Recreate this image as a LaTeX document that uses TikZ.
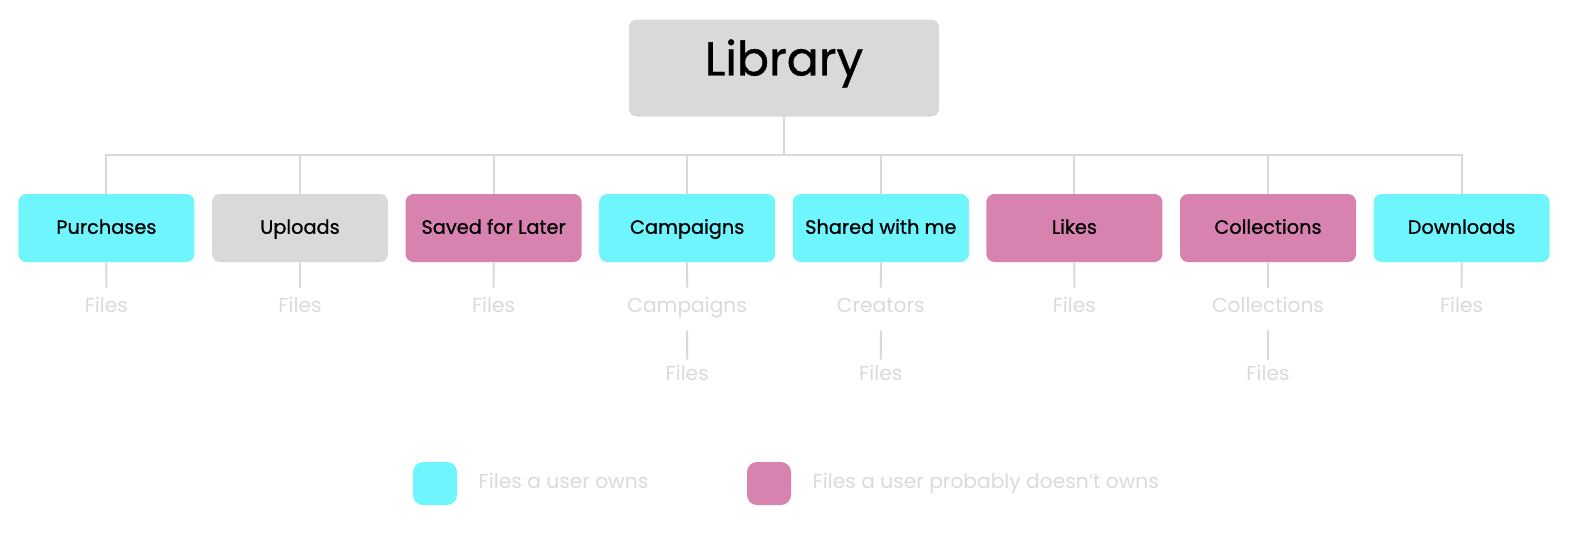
\documentclass[tikz,border=0pt]{standalone}
\usepackage{fontspec}
\setmainfont{Poppins}
\newfontfamily\boxfont{Poppins}[FakeBold=0.8]
\usetikzlibrary{positioning}
\definecolor{owncyan}{HTML}{6EF5FD}
\definecolor{notpink}{HTML}{D782AF}
\definecolor{boxgray}{HTML}{D9D9D9}
\definecolor{fadegray}{HTML}{DADADA}
\tikzset{
  folder/.style={rounded corners=0.16cm, minimum width=3.52cm, minimum height=1.36cm, inner sep=0pt, text=black, text height=0.86em, text depth=0.2em, font=\boxfont\fontsize{11}{13}\selectfont},
  leaf/.style={minimum height=0.76cm, inner sep=0pt, text=fadegray, text height=0.8em, text depth=0.22em, font=\fontsize{11.5}{13}\selectfont},
  key/.style={rounded corners=0.2cm, minimum width=0.88cm, minimum height=0.86cm, inner sep=0pt}
}
\begin{document}
\begin{tikzpicture}[
      level distance=3.2cm,
      edge from parent/.style={draw=boxgray, line width=0.04cm},
      level 1/.style={sibling distance=3.872cm,
        edge from parent path={(\tikzparentnode.south) -- ++(0,-0.76cm) -| (\tikzchildnode.north)}},
      level 2/.style={level distance=1.58cm,
        edge from parent path={(\tikzparentnode.south) -- (\tikzchildnode.north)}},
      level 3/.style={level distance=1.36cm,
        edge from parent path={([yshift=-0.08cm]\tikzparentnode.south) -- ([yshift=-0.08cm]\tikzchildnode.north)}}]
    \useasboundingbox (0,0) rectangle (31.92,-10.7);
    \node[folder, fill=boxgray, minimum width=6.2cm, minimum height=1.94cm, text height=1.05em, text depth=0.2em, font=\boxfont\fontsize{27}{32}\selectfont] (library) at (15.68,-1.36) {Library}
        child
          { node[folder, fill=owncyan] (purchases) {Purchases}
            child { node[leaf] (purchasesfiles) {Files} } }
        child
          { node[folder, fill=boxgray] (uploads) {Uploads}
            child { node[leaf] (uploadsfiles) {Files} } }
        child
          { node[folder, fill=notpink] (saved) {Saved for Later}
            child { node[leaf] (savedfiles) {Files} } }
        child
          { node[folder, fill=owncyan] (campaigns) {Campaigns}
            child { node[leaf] (campaignslist) {Campaigns}
              child { node[leaf] (campaignsfiles) {Files} } } }
        child
          { node[folder, fill=owncyan] (shared) {Shared with me}
            child { node[leaf] (creators) {Creators}
              child { node[leaf] (creatorsfiles) {Files} } } }
        child
          { node[folder, fill=notpink] (likes) {Likes}
            child { node[leaf] (likesfiles) {Files} } }
        child
          { node[folder, fill=notpink] (collections) {Collections}
            child { node[leaf] (collectionslist) {Collections}
              child { node[leaf] (collectionsfiles) {Files} } } }
        child
          { node[folder, fill=owncyan] (downloads) {Downloads}
            child { node[leaf] (downloadsfiles) {Files} } };
    \node[key, fill=owncyan] (ownkey) at (8.7,-9.67) {};
    \node[leaf, right=0.42cm of ownkey] (owntext) {Files a user owns};
    \node[key, fill=notpink] (notownkey) at (15.38,-9.67) {};
    \node[leaf, right=0.42cm of notownkey] (notowntext) {Files a user probably doesn’t owns};
  \end{tikzpicture}
\end{document}
